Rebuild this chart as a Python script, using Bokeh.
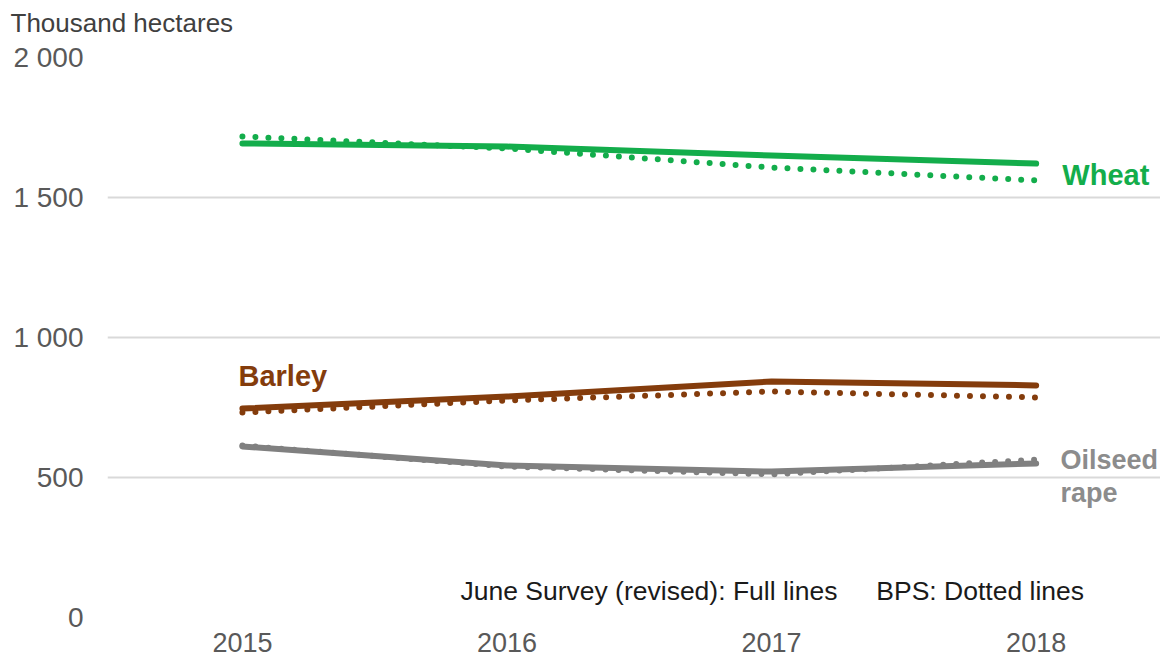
from bokeh.plotting import figure
from bokeh.models import Range1d, FixedTicker, Label, Title
from bokeh.embed import file_html
from bokeh.resources import INLINE

years = [2015, 2016, 2017, 2018]
year_labels = ["2015", "2016", "2017", "2018"]
y_ticks = [0, 500, 1000, 1500, 2000]
y_tick_labels = ["0", "500", "1 000", "1 500", "2 000"]

wheat_june = [1693, 1682, 1650, 1621]
wheat_bps = [1718, 1675, 1607, 1561]
barley_june = [746, 789, 843, 829]
barley_bps = [732, 775, 807, 786]
oilseed_june = [611, 543, 521, 550]
oilseed_bps = [614, 539, 511, 564]

GREEN = "#13ad4b"
BROWN = "#843c0c"
GREY = "#808080"
FONT = "Liberation Sans"

p = figure(width=1160, height=665, output_backend="svg",
           toolbar_location=None, x_range=Range1d(2014.49, 2018.47),
           y_range=Range1d(0, 2000), min_border_left=107, min_border_right=0,
           min_border_top=57, min_border_bottom=48)
p.outline_line_color = None
p.background_fill_color = "white"
p.border_fill_color = "white"

# spacer between the frame and the unit title
p.add_layout(Title(text=" ", text_font_size="2px", standoff=10), "above")
t = Title(text="Thousand hectares", align="left", offset=-97, standoff=8,
          vertical_align="top", text_font=FONT, text_font_size="26px",
          text_font_style="normal", text_color="#404040")
p.add_layout(t, "above")

# axes
p.xaxis.ticker = FixedTicker(ticks=years)
p.xaxis.major_label_overrides = {y: l for y, l in zip(years, year_labels)}
p.xaxis.axis_line_color = None
p.xaxis.major_tick_line_color = None
p.xaxis.minor_tick_line_color = None
p.xaxis.major_tick_out = 0
p.xaxis.major_label_standoff = 15
p.xaxis.major_label_text_font = FONT
p.xaxis.major_label_text_font_size = "27px"
p.xaxis.major_label_text_color = "#595959"

p.yaxis.ticker = FixedTicker(ticks=y_ticks)
p.yaxis.major_label_overrides = {v: l for v, l in zip(y_ticks, y_tick_labels)}
p.yaxis.axis_line_color = None
p.yaxis.major_tick_line_color = None
p.yaxis.minor_tick_line_color = None
p.yaxis.major_tick_out = 0
p.yaxis.major_label_standoff = 24
p.yaxis.major_label_text_font = FONT
p.yaxis.major_label_text_font_size = "28px"
p.yaxis.major_label_text_color = "#595959"

p.xgrid.grid_line_color = None
p.ygrid.grid_line_color = "#d9d9d9"
p.ygrid.grid_line_width = 2

series = [
    (wheat_june, wheat_bps, GREEN),
    (barley_june, barley_bps, BROWN),
    (oilseed_june, oilseed_bps, GREY),
]
for june, bps, col in series:
    p.line(years, june, line_color=col, line_width=6, line_cap="round", line_join="round")
    p.line(years, bps, line_color=col, line_width=6, line_cap="round", line_dash="0 13")

def lab(x, y, text, color, size="29px", style="bold"):
    p.add_layout(Label(x=x, y=y, text=text, text_color=color, text_font=FONT,
                       text_font_size=size, text_font_style=style,
                       text_baseline="middle", text_align="left"))

lab(2018.099, 1579, "Wheat", GREEN)
lab(2014.985, 861, "Barley", BROWN)
lab(2018.092, 564, "Oilseed", "#8c8c8c", size="27px")
lab(2018.092, 446, "rape", "#8c8c8c", size="27px")
lab(2015.824, 96, "June Survey (revised): Full lines", "#1a1a1a", size="26.5px", style="normal")
lab(2017.396, 96, "BPS: Dotted lines", "#1a1a1a", size="26.5px", style="normal")

open("out.html", "w").write(file_html(p, INLINE))
